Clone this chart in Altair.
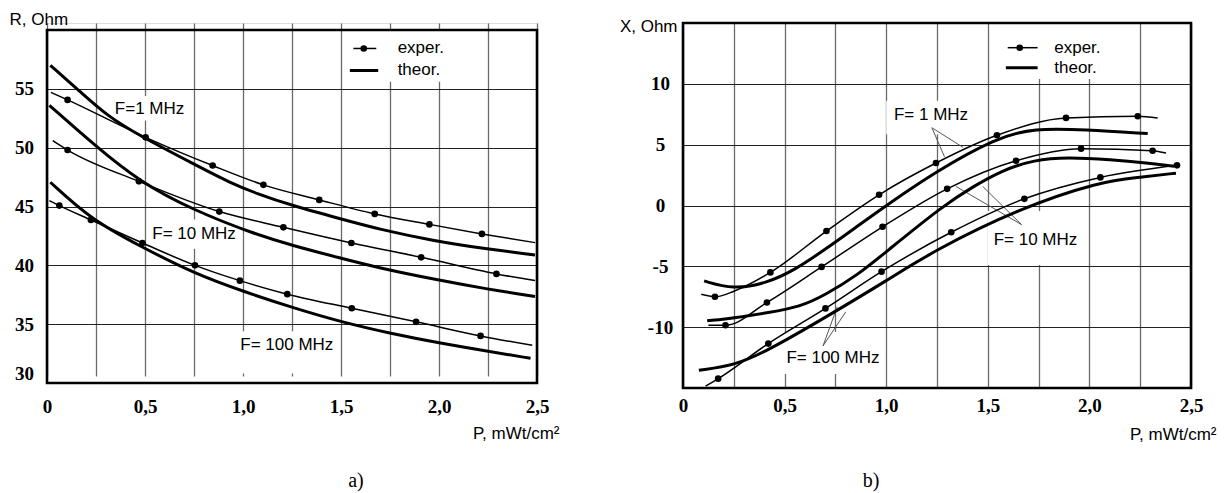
import altair as alt
import pandas as pd

# ---------------- axes ----------------
P_DOMAIN = [0, 2.5]
P_TICKS = [0, 0.25, 0.5, 0.75, 1.0, 1.25, 1.5, 1.75, 2.0, 2.25, 2.5]
R_DOMAIN = [30, 60]
R_TICKS = [30, 35, 40, 45, 50, 55]
X_DOMAIN = [-15, 15]
X_TICKS = [-10, -5, 0, 5, 10]

# ---------------- panel a) : R, Ohm ----------------
R_F1_EXP_P = [0.02, 0.105, 0.503, 0.845, 1.104, 1.389, 1.672, 1.951, 2.219, 2.49]
R_F1_EXP_V = [54.7, 54.06, 50.88, 48.48, 46.84, 45.56, 44.37, 43.48, 42.67, 41.93]
R_F1_DOT_P = [0.105, 0.503, 0.845, 1.104, 1.389, 1.672, 1.951, 2.219]
R_F1_DOT_V = [54.06, 50.88, 48.48, 46.84, 45.56, 44.37, 43.48, 42.67]
R_F1_THEO_P = [0.017, 0.16, 0.31, 0.48, 0.75, 0.935, 1.07, 1.25, 1.5, 1.7, 1.968, 2.239, 2.49]
R_F1_THEO_V = [57.0, 54.9, 52.65, 50.95, 48.6, 47.0, 46.1, 45.08, 43.94, 43.04, 42.1, 41.4, 40.88]

R_F10_EXP_P = [0.029, 0.105, 0.469, 0.879, 1.206, 1.553, 1.909, 2.293, 2.49]
R_F10_EXP_V = [50.6, 49.8, 47.14, 44.57, 43.23, 41.9, 40.68, 39.27, 38.7]
R_F10_DOT_P = [0.105, 0.469, 0.879, 1.206, 1.553, 1.909, 2.293]
R_F10_DOT_V = [49.8, 47.14, 44.57, 43.23, 41.9, 40.68, 39.27]
R_F10_THEO_P = [0.012, 0.25, 0.47, 0.75, 1.07, 1.25, 1.5, 1.7, 1.985, 2.24, 2.49]
R_F10_THEO_V = [53.6, 50.1, 47.14, 44.65, 42.6, 41.7, 40.6, 39.75, 38.78, 38.0, 37.35]

R_F100_EXP_P = [0.012, 0.063, 0.224, 0.487, 0.755, 0.984, 1.226, 1.555, 1.883, 2.212, 2.476]
R_F100_EXP_V = [45.5, 45.08, 43.86, 41.9, 40.0, 38.7, 37.55, 36.35, 35.2, 34.0, 33.2]
R_F100_DOT_P = [0.063, 0.224, 0.487, 0.755, 0.984, 1.226, 1.555, 1.883, 2.212]
R_F100_DOT_V = [45.08, 43.86, 41.9, 40.0, 38.7, 37.55, 36.35, 35.2, 34.0]
R_F100_THEO_P = [0.017, 0.224, 0.478, 0.752, 1.007, 1.263, 1.509, 1.755, 2.0, 2.248, 2.467]
R_F100_THEO_V = [47.06, 43.9, 41.6, 39.3, 37.75, 36.35, 35.15, 34.2, 33.4, 32.7, 32.1]

R_LABELS = ["F=1 MHz", "F= 10 MHz", "F= 100 MHz"]
R_LABEL_P = [0.346, 0.537, 0.986]
R_LABEL_V = [53.3, 42.67, 33.23]

# ---------------- panel b) : X, Ohm ----------------
X_F1_EXP_P = [0.09, 0.157, 0.25, 0.43, 0.706, 0.965, 1.245, 1.545, 1.885, 2.238, 2.336]
X_F1_EXP_V = [-7.3, -7.5, -7.05, -5.5, -2.1, 0.88, 3.49, 5.77, 7.2, 7.34, 7.2]
X_F1_DOT_P = [0.157, 0.43, 0.706, 0.965, 1.245, 1.545, 1.885, 2.238]
X_F1_DOT_V = [-7.5, -5.5, -2.1, 0.88, 3.49, 5.77, 7.2, 7.34]
X_F1_THEO_P = [0.104, 0.245, 0.41, 0.55, 0.696, 0.85, 1.0, 1.245, 1.54, 1.729, 1.975, 2.287]
X_F1_THEO_V = [-6.2, -6.9, -6.4, -5.3, -3.65, -1.8, 0.0, 2.8, 5.55, 6.37, 6.24, 5.91]

X_F10_EXP_P = [0.125, 0.209, 0.413, 0.682, 0.982, 1.30, 1.639, 1.959, 2.311, 2.377]
X_F10_EXP_V = [-9.84, -9.84, -7.97, -5.05, -1.75, 1.37, 3.68, 4.67, 4.5, 4.31]
X_F10_DOT_P = [0.209, 0.413, 0.682, 0.982, 1.30, 1.639, 1.959, 2.311]
X_F10_DOT_V = [-9.84, -7.97, -5.05, -1.75, 1.37, 3.68, 4.67, 4.5]
X_F10_THEO_P = [0.119, 0.258, 0.421, 0.576, 0.698, 0.861, 1.0, 1.285, 1.43, 1.565, 1.729, 1.893, 2.106, 2.287, 2.418]
X_F10_THEO_V = [-9.48, -9.23, -8.8, -8.33, -7.37, -5.7, -3.8, 0.05, 1.57, 2.85, 3.77, 3.96, 3.77, 3.49, 3.22]

X_F100_EXP_P = [0.111, 0.173, 0.42, 0.701, 0.977, 1.32, 1.68, 2.054, 2.431]
X_F100_EXP_V = [-14.84, -14.23, -11.35, -8.46, -5.44, -2.2, 0.55, 2.31, 3.3]
X_F100_DOT_P = [0.173, 0.42, 0.701, 0.977, 1.32, 1.68, 2.054, 2.431]
X_F100_DOT_V = [-14.23, -11.35, -8.46, -5.44, -2.2, 0.55, 2.31, 3.3]
X_F100_THEO_P = [0.078, 0.258, 0.42, 0.698, 1.01, 1.226, 1.657, 2.057, 2.235, 2.426]
X_F100_THEO_V = [-13.55, -13.13, -11.9, -9.23, -6.1, -3.79, -0.22, 1.98, 2.3, 2.66]

X_LABELS = ["F= 1 MHz", "F= 10 MHz", "F= 100 MHz"]
X_LABEL_P = [1.038, 1.529, 0.509]
X_LABEL_V = [7.42, -2.83, -12.56]
# leader lines: (label end) -> (curve end)
X_LEAD_P1 = [1.225, 1.225, 1.666, 1.666, 0.689, 0.689]
X_LEAD_V1 = [6.39, 6.39, -1.57, -1.57, -11.54, -11.54]
X_LEAD_P2 = [1.287, 1.378, 1.343, 1.475, 0.759, 0.801]
X_LEAD_V2 = [4.0, 4.78, 1.57, 1.57, -8.33, -8.74]

LEGEND_TEXT = ["exper.", "theor."]

# white boxes behind legend / labels (p from, p to, v from, v to)
R_BOX = [[1.53, 2.15, 55.6, 60.0], [0.33, 0.72, 52.3, 54.4],
         [0.52, 0.97, 41.4, 43.9], [0.975, 1.49, 30.8, 34.4]]
X_BOX = [[1.55, 2.15, 10.4, 15.0], [1.0, 1.45, 5.85, 8.6],
         [1.5, 1.98, -4.9, -0.45], [0.49, 0.99, -13.85, -10.4]]
# legend geometry (p positions, v of the two rows)
R_LEG = dict(exp=[1.563, 1.68], dot=1.616, theo=[1.545, 1.69], text=1.789, v=[58.43, 56.56])
X_LEG = dict(exp=[1.598, 1.745], dot=1.657, theo=[1.589, 1.745], text=1.827, v=[12.97, 11.32])

SANS = "Liberation Sans, Arial, sans-serif"
SERIF = "Liberation Serif, Times New Roman, serif"
X_LABEL_EXPR = ("(round(datum.value*4) % 2 != 0) ? '' : "
                "(datum.value == 0 ? '0' : replace(format(datum.value, '.1f'), '.', ','))")
Y_LABEL_EXPR = "'' + datum.value"


def curves(names, ps, vs):
    rows = []
    for n, p, v in zip(names, ps, vs):
        rows += [{"s": n, "p": a, "v": b} for a, b in zip(p, v)]
    return pd.DataFrame(rows)


def panel(exp, theo, dots, labels, boxes, leg, leaders, ydom, yticks, yrange,
          ytitle, ytx, yty, yalign, xtx, xty, w, h, caption, cap_dx, cap_off,
          xpad, yflush):
    xs = alt.Scale(domain=P_DOMAIN, nice=False, zero=False)
    ys_kw = dict(domain=ydom, nice=False, zero=False)
    if yrange is not None:
        ys_kw["range"] = yrange
    ys = alt.Scale(**ys_kw)
    xaxis = alt.Axis(values=P_TICKS, labelExpr=X_LABEL_EXPR, grid=True,
                     gridColor="#6a6a6a", gridWidth=1.3, domain=False,
                     ticks=False, tickSize=0, labelPadding=xpad,
                     labelFont=SERIF, labelFontSize=19, labelFontWeight="bold",
                     labelColor="black", labelOverlap=False, labelFlush=False,
                     title="P, mWt/cm²", titleX=xtx, titleY=xty,
                     titleAlign="right", titleBaseline="alphabetic",
                     titleFont=SANS, titleFontSize=17, titleFontWeight="normal",
                     titleColor="black")
    yaxis = alt.Axis(values=yticks, labelExpr=Y_LABEL_EXPR, grid=True,
                     gridColor="#222222", gridWidth=1,
                     domain=False, ticks=False, tickSize=0, labelPadding=23,
                     labelAlign="center", labelFlush=yflush,
                     labelFont=SERIF, labelFontSize=19, labelFontWeight="bold",
                     labelColor="black", labelOverlap=False,
                     title=ytitle, titleAngle=0, titleX=ytx, titleY=yty,
                     titleAlign=yalign, titleBaseline="alphabetic",
                     titleFont=SANS, titleFontSize=17, titleFontWeight="normal",
                     titleColor="black")
    X = alt.X("p:Q", scale=xs, axis=xaxis)
    Y = alt.Y("v:Q", scale=ys, axis=yaxis)

    box_df = pd.DataFrame([{"p": b[0], "p2": b[1], "v": b[2], "v2": b[3]} for b in boxes])
    boxes_l = alt.Chart(box_df).mark_rect(color="white").encode(
        x=X, x2="p2:Q", y=Y, y2="v2:Q")

    theo_l = alt.Chart(theo).mark_line(color="black", strokeWidth=3,
                                       interpolate="basis").encode(
        x=X, y=Y, detail="s:N")
    exp_l = alt.Chart(exp).mark_line(color="black", strokeWidth=1.5,
                                     interpolate="monotone").encode(
        x=X, y=Y, detail="s:N")
    dot_l = alt.Chart(dots).mark_circle(color="black", opacity=1, size=44).encode(x=X, y=Y)

    lab_df = pd.DataFrame({"p": labels[1], "v": labels[2], "t": labels[0]})
    lab_l = alt.Chart(lab_df).mark_text(align="left", baseline="middle", font=SANS,
                                        fontSize=17, color="black").encode(
        x=X, y=Y, text="t:N")

    leg_lines = pd.DataFrame([
        {"s": "e", "p": leg["exp"][0], "v": leg["v"][0]},
        {"s": "e", "p": leg["exp"][1], "v": leg["v"][0]},
    ])
    leg_theo = pd.DataFrame([
        {"s": "t", "p": leg["theo"][0], "v": leg["v"][1]},
        {"s": "t", "p": leg["theo"][1], "v": leg["v"][1]},
    ])
    leg_e = alt.Chart(leg_lines).mark_line(color="black", strokeWidth=1.5).encode(x=X, y=Y)
    leg_t = alt.Chart(leg_theo).mark_line(color="black", strokeWidth=3).encode(x=X, y=Y)
    leg_d = alt.Chart(pd.DataFrame({"p": [leg["dot"]], "v": [leg["v"][0]]})).mark_circle(
        color="black", opacity=1, size=44).encode(x=X, y=Y)
    leg_txt = alt.Chart(pd.DataFrame({"p": [leg["text"]] * 2, "v": leg["v"],
                                      "t": LEGEND_TEXT})).mark_text(
        align="left", baseline="middle", font=SANS, fontSize=17, color="black").encode(
        x=X, y=Y, text="t:N")

    frame_df = pd.DataFrame({"p": [P_DOMAIN[0]], "p2": [P_DOMAIN[1]],
                             "v": [ydom[0]], "v2": [ydom[1]]})
    frame_l = alt.Chart(frame_df).mark_rect(filled=False, stroke="black",
                                            strokeWidth=2.6).encode(
        x=X, x2="p2:Q", y=Y, y2="v2:Q")

    layers = [boxes_l]
    if leaders is not None:
        lead_df = pd.DataFrame({"p": leaders[0], "v": leaders[1],
                                "p2": leaders[2], "v2": leaders[3]})
        layers.append(alt.Chart(lead_df).mark_rule(color="#555555", strokeWidth=1).encode(
            x=X, y=Y, x2="p2:Q", y2="v2:Q"))
    layers += [theo_l, exp_l, dot_l, lab_l, leg_e, leg_t, leg_d, leg_txt, frame_l]

    return alt.layer(*layers).properties(
        width=w, height=h,
        title=alt.TitleParams(caption, orient="bottom", anchor="middle", dx=cap_dx,
                              offset=cap_off, font=SERIF, fontSize=20,
                              fontWeight="normal", color="black"))


names = ["F1", "F10", "F100"]
r_exp = curves(names, [R_F1_EXP_P, R_F10_EXP_P, R_F100_EXP_P],
               [R_F1_EXP_V, R_F10_EXP_V, R_F100_EXP_V])
r_theo = curves(names, [R_F1_THEO_P, R_F10_THEO_P, R_F100_THEO_P],
                [R_F1_THEO_V, R_F10_THEO_V, R_F100_THEO_V])
r_dots = curves(names, [R_F1_DOT_P, R_F10_DOT_P, R_F100_DOT_P],
                [R_F1_DOT_V, R_F10_DOT_V, R_F100_DOT_V])
x_exp = curves(names, [X_F1_EXP_P, X_F10_EXP_P, X_F100_EXP_P],
               [X_F1_EXP_V, X_F10_EXP_V, X_F100_EXP_V])
x_theo = curves(names, [X_F1_THEO_P, X_F10_THEO_P, X_F100_THEO_P],
                [X_F1_THEO_V, X_F10_THEO_V, X_F100_THEO_V])
x_dots = curves(names, [X_F1_DOT_P, X_F10_DOT_P, X_F100_DOT_P],
                [X_F1_DOT_V, X_F10_DOT_V, X_F100_DOT_V])

left = panel(r_exp, r_theo, r_dots, (R_LABELS, R_LABEL_P, R_LABEL_V), R_BOX, R_LEG, None,
             R_DOMAIN, R_TICKS, [360, 7], "R, Ohm", -38, 1, "left", 512, 55,
             490, 360, "a)", 64, 30, 14, True)
right = panel(x_exp, x_theo, x_dots, (X_LABELS, X_LABEL_P, X_LABEL_V), X_BOX, X_LEG,
              (X_LEAD_P1, X_LEAD_V1, X_LEAD_P2, X_LEAD_V2),
              X_DOMAIN, X_TICKS, None, "X, Ohm", -6, 8, "right", 533, 51,
              508, 365, "b)", -66, 29, 8, False)

chart = alt.hconcat(left, right, spacing=146, bounds="flush").properties(
    padding={"left": 0, "top": 1, "right": 0, "bottom": 0}
).configure_view(stroke=None).configure(background="white")

chart.save("out.html", embed_options={"renderer": "svg", "actions": False})
